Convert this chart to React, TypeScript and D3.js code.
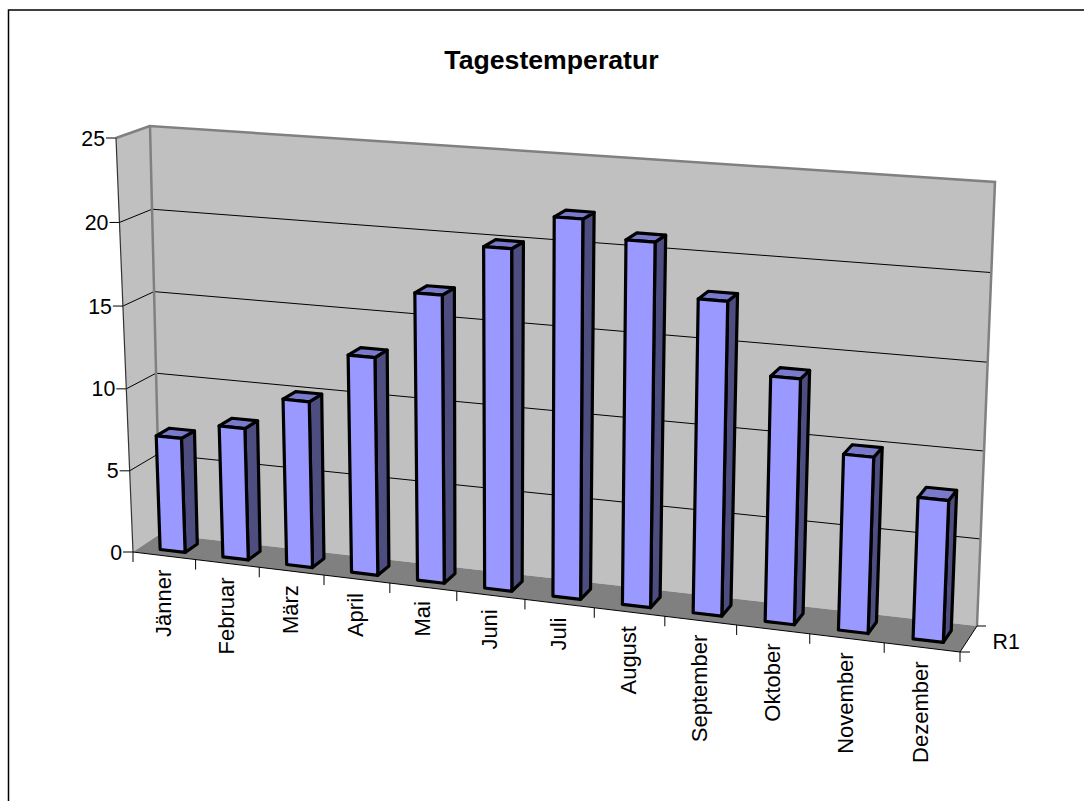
import React from "react";
import * as d3 from "d3";

const title = "Tagestemperatur";
const months = ["Jänner","Februar","März","April","Mai","Juni","Juli","August","September","Oktober","November","Dezember"];
const temps = [7, 8, 10, 13, 17, 20, 22, 21, 18, 14, 10, 8];
const valueTicks = [0, 5, 10, 15, 20, 25];
const seriesLabel = "R1";

type P = [number, number];
// box corners: [front|back][left|right][bottom|top]
const FLB: P = [133, 552], FLT: P = [116, 138], BLB: P = [160, 534], BLT: P = [150, 126];
const BRB: P = [977, 626], BRT: P = [995, 182], FRB: P = [960, 652], FRT: P = [978, 197];

const lerp = (a: P, b: P, t: number): P => [a[0] + (b[0] - a[0]) * t, a[1] + (b[1] - a[1]) * t];
const uScale = d3.scaleLinear().domain([0, months.length]).range([0, 1]);
const vScale = d3.scaleLinear().domain([0, 25]).range([0, 1]);
const warp = (t: number, k: number) => t / (t + k * (1 - t));
function proj(cat: number, val: number, w: number): P {
  const u = warp(uScale(cat), 1.11);
  const v = warp(vScale(val), 1.025);
  const fb = lerp(FLB, FRB, u), ft = lerp(FLT, FRT, u), bb = lerp(BLB, BRB, u), bt = lerp(BLT, BRT, u);
  return lerp(lerp(fb, ft, v), lerp(bb, bt, v), w);
}
const poly = (pts: P[]) => "M" + pts.map((p) => p[0].toFixed(2) + "," + p[1].toFixed(2)).join("L") + "Z";
const U0 = 0.32, U1 = 0.72, W0 = 0.27, W1 = 0.73;
const FONT = "'Liberation Sans', Arial, sans-serif";

export default function App() {
  return (
    <svg width={1084} height={801} style={{ position: "absolute", left: 0, top: 0, display: "block", background: "#fff" }} fontFamily={FONT}>
      <path d="M8.5,801V10H1084" fill="none" stroke="#000" strokeWidth={1.5} />
      <text x={551.5} y={68.5} textAnchor="middle" fontSize={26.67} fontWeight="bold">{title}</text>

      {/* walls and floor */}
      <path d={poly([FLB, FLT, BLT, BLB])} fill="#c0c0c0" />
      <path d={poly([BLB, BLT, BRT, BRB])} fill="#c0c0c0" />
      <path d={poly([FLB, BLB, BRB, FRB])} fill="#808080" />

      {/* gridlines */}
      {valueTicks.slice(1, -1).map((t) => {
        const a = proj(0, t, 0), b = proj(0, t, 1), c = proj(12, t, 1);
        return <path key={t} d={`M${a[0]},${a[1]}L${b[0]},${b[1]}L${c[0]},${c[1]}`} fill="none" stroke="#000" strokeWidth={1} />;
      })}
      {/* edges */}
      <path d={`M${BLB[0]},${BLB[1]}L${BLT[0]},${BLT[1]}L${BRT[0]},${BRT[1]}L${BRB[0]},${BRB[1]}`} fill="none" stroke="#808080" strokeWidth={2.5} />
      <path d={`M${FLT[0]},${FLT[1]}L${BLT[0]},${BLT[1]}`} fill="none" stroke="#808080" strokeWidth={2.5} />
      <path d={`M${FLB[0]},${FLB[1]}L${FLT[0]},${FLT[1]}`} fill="none" stroke="#333" strokeWidth={1.2} />
      <path d={`M${FLB[0]},${FLB[1]}L${FRB[0]},${FRB[1]}L${BRB[0]},${BRB[1]}`} fill="none" stroke="#000" strokeWidth={1} />

      {/* value axis */}
      {valueTicks.map((t) => {
        const a = proj(0, t, 0);
        return (
          <g key={t}>
            <line x1={a[0] - 10} x2={a[0]} y1={a[1]} y2={a[1]} stroke="#000" strokeWidth={1} />
            <text x={a[0] - 11} y={a[1] + 7.5} textAnchor="end" fontSize={21.33}>{t}</text>
          </g>
        );
      })}

      {/* category axis */}
      {d3.range(months.length + 1).map((i) => {
        const a = proj(i, 0, 0);
        return <line key={i} x1={a[0]} x2={a[0]} y1={a[1]} y2={a[1] + 10} stroke="#000" strokeWidth={1} />;
      })}
      {months.map((m, i) => {
        const a = proj(i + 0.5, 0, 0);
        const x = a[0] + 6.5, y = a[1] + 14;
        return <text key={m} transform={`translate(${x},${y}) rotate(-90)`} textAnchor="end" fontSize={22}>{m}</text>;
      })}

      {/* series axis */}
      <line x1={FRB[0]} x2={FRB[0] + 10} y1={FRB[1]} y2={FRB[1]} stroke="#000" strokeWidth={1} />
      <line x1={BRB[0]} x2={BRB[0] + 9} y1={BRB[1]} y2={BRB[1]} stroke="#000" strokeWidth={1} />
      <text x={992.5} y={649} fontSize={21.33}>{seriesLabel}</text>

      {/* bars */}
      {temps.map((v, i) => {
        const c0 = i + U0, c1 = i + U1;
        const f = [proj(c0, 0, W0), proj(c1, 0, W0), proj(c1, v, W0), proj(c0, v, W0)];
        const side = [proj(c1, 0, W0), proj(c1, 0, W1), proj(c1, v, W1), proj(c1, v, W0)];
        const top = [proj(c0, v, W0), proj(c1, v, W0), proj(c1, v, W1), proj(c0, v, W1)];
        const s = { stroke: "#000", strokeWidth: 3.2, strokeLinejoin: "round" as const };
        return (
          <g key={months[i]}>
            <path d={poly(side)} fill="#4d4d80" {...s} />
            <path d={poly(top)} fill="#7a7acc" {...s} />
            <path d={poly(f)} fill="#9999ff" {...s} />
          </g>
        );
      })}
    </svg>
  );
}
